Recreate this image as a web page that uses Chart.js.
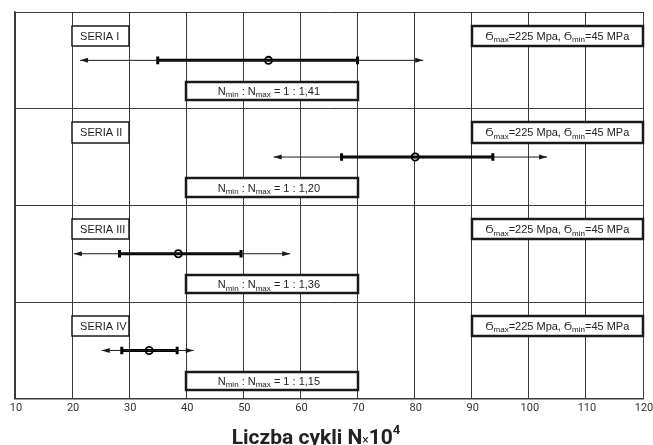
<!DOCTYPE html>
<html>
<head>
<meta charset="utf-8">
<script src="https://cdn.jsdelivr.net/npm/chart.js@4.4.1/dist/chart.umd.min.js"></script>
<style>
  html, body { margin: 0; padding: 0; background: #fff; }
</style>
</head>
<body>
<canvas id="myChart" width="653" height="445"></canvas>
<script>
// series (N x 10^4)
var categories = ['SERIA I', 'SERIA II', 'SERIA III', 'SERIA IV'];
var rangeLow = [21.4, 55.3, 20.3, 25.2];
var nMin = [35.0, 67.2, 28.3, 28.7];
var nMean = [54.4, 80.1, 38.6, 33.5];
var nMax = [70.0, 93.7, 49.6, 38.4];
var rangeHigh = [81.5, 103.2, 58.2, 41.3];
var ratioLabels = ['1,41', '1,20', '1,36', '1,15'];
var sigmaMax = 225;
var sigmaMin = 45;
var xTicks = [10, 20, 30, 40, 50, 60, 70, 80, 90, 100, 110, 120];

var INK = '#1a1a1a';
var BOX_FONT = '"Liberation Sans", Arial, sans-serif';

var canvas = document.getElementById('myChart');
var ctx = canvas.getContext('2d');

var datasets = [];
categories.forEach(function (name, i) {
    var y = i + 0.5;
    datasets.push({
        label: name + ' range',
        data: [{ x: rangeLow[i], y: y }, { x: rangeHigh[i], y: y }],
        showLine: true,
        borderColor: INK,
        borderWidth: 1,
        pointRadius: 0
    });
    datasets.push({
        label: name + ' min-max',
        data: [{ x: nMin[i], y: y }, { x: nMax[i], y: y }],
        showLine: true,
        borderColor: '#000',
        borderWidth: 3,
        pointStyle: 'line',
        rotation: 90,
        pointRadius: 3.8,
        pointBorderWidth: 3,
        pointBorderColor: '#000'
    });
    datasets.push({
        label: name + ' mean',
        data: [{ x: nMean[i], y: y }],
        pointStyle: 'circle',
        pointRadius: 3.6,
        pointBorderWidth: 1.8,
        pointBorderColor: '#000',
        pointBackgroundColor: '#fff'
    });
});

function drawBox(c, left, top, right, bottom, lw) {
    var off = (lw % 2 === 1) ? 0.5 : 0;
    left = Math.round(left) + off; right = Math.round(right) + off;
    top = Math.round(top) + off; bottom = Math.round(bottom) + off;
    c.save();
    c.fillStyle = '#fff';
    c.fillRect(left, top, right - left, bottom - top);
    c.lineWidth = lw;
    c.strokeStyle = INK;
    c.strokeRect(left, top, right - left, bottom - top);
    c.restore();
}

// text with subscripts / superscripts; parts: {t, size, dy, bold}
function richText(c, parts, x, baseline, align, family) {
    var w = 0;
    c.save();
    parts.forEach(function (p) {
        c.font = (p.bold ? 'bold ' : '') + p.size + 'px ' + family;
        p.w = c.measureText(p.t).width;
        w += p.w;
    });
    var cx = align === 'left' ? x : x - w / 2;
    c.fillStyle = '#222';
    c.textBaseline = 'alphabetic';
    c.textAlign = 'left';
    parts.forEach(function (p) {
        c.font = (p.bold ? 'bold ' : '') + p.size + 'px ' + family;
        c.fillText(p.t, cx, baseline + (p.dy || 0));
        cx += p.w;
    });
    c.restore();
}

function txt(t) { return { t: t, size: 11 }; }
function sub(t) { return { t: t, size: 8, dy: 2.5 }; }

function arrowHead(c, tipX, y, dir) {
    c.save();
    c.fillStyle = INK;
    c.beginPath();
    c.moveTo(tipX, y);
    c.lineTo(tipX - dir * 8, y - 2.5);
    c.lineTo(tipX - dir * 8, y + 2.5);
    c.closePath();
    c.fill();
    c.restore();
}

var panelPlugin = {
    id: 'panels',
    beforeDatasetsDraw: function (chart) {
        var c = chart.ctx, xs = chart.scales.x, ys = chart.scales.y;
        categories.forEach(function (name, i) {
            // series name
            var t = ys.getPixelForValue(i + 0.14), b = ys.getPixelForValue(i + 0.35);
            drawBox(c, xs.getPixelForValue(20), t, xs.getPixelForValue(30), b, 1.5);
            richText(c, [txt(name)], xs.getPixelForValue(20) + 8, (t + b) / 2 + 4, 'left', BOX_FONT);
            // stress levels
            drawBox(c, xs.getPixelForValue(90), t, xs.getPixelForValue(120), b, 2.5);
            richText(c, [
                txt('Ϭ'), sub('max'), txt('=' + sigmaMax + ' Mpa, Ϭ'), sub('min'), txt('=' + sigmaMin + ' MPa')
            ], (xs.getPixelForValue(90) + xs.getPixelForValue(120)) / 2, (t + b) / 2 + 4, 'center', BOX_FONT);
            // ratio
            var t2 = ys.getPixelForValue(i + 0.72), b2 = ys.getPixelForValue(i + 0.91);
            drawBox(c, xs.getPixelForValue(40), t2, xs.getPixelForValue(70), b2, 2.5);
            richText(c, [
                txt('N'), sub('min'), txt(' : N'), sub('max'), txt(' = 1 : ' + ratioLabels[i])
            ], (xs.getPixelForValue(40) + xs.getPixelForValue(70)) / 2 - 3, (t2 + b2) / 2 + 4, 'center', BOX_FONT);
        });
    },
    afterDatasetsDraw: function (chart) {
        var c = chart.ctx, xs = chart.scales.x, ys = chart.scales.y;
        categories.forEach(function (name, i) {
            var y = ys.getPixelForValue(i + 0.5);
            arrowHead(c, xs.getPixelForValue(rangeLow[i]), y, -1);
            arrowHead(c, xs.getPixelForValue(rangeHigh[i]), y, 1);
        });
    },
    afterDraw: function (chart) {
        // axis title with real superscript
        var a = chart.chartArea;
        richText(chart.ctx, [
            { t: 'Liczba cykli N', size: 21, bold: true },
            { t: '×', size: 12 },
            { t: '10', size: 21, bold: true },
            { t: '4', size: 13, bold: true, dy: -10 }
        ], (a.left + a.right) / 2 - 13, 444, 'center', 'Roboto');
    }
};

var myChart = new Chart(ctx, {
    type: 'scatter',
    data: { datasets: datasets },
    plugins: [panelPlugin],
    options: {
        responsive: false,
        animation: false,
        events: [],
        devicePixelRatio: 1,
        layout: { padding: { left: 15, right: 10, top: 12, bottom: 27 } },
        plugins: {
            legend: { display: false },
            tooltip: { enabled: false }
        },
        scales: {
            x: {
                type: 'linear',
                min: 10,
                max: 120,
                afterBuildTicks: function (scale) {
                    scale.ticks = xTicks.map(function (v) { return { value: v }; });
                },
                afterFit: function (scale) {
                    scale.paddingLeft = 0;
                    scale.paddingRight = 0;
                },
                grid: { color: '#3a3a3a', lineWidth: 1, drawTicks: false },
                border: { color: '#3a3a3a', width: 1.5 },
                ticks: {
                    padding: 3,
                    labelOffset: 1,
                    color: '#333',
                    font: { family: 'Roboto', size: 11 },
                    maxRotation: 0
                }
            },
            y: {
                type: 'linear',
                min: 0,
                max: 4,
                reverse: true,
                afterBuildTicks: function (scale) {
                    scale.ticks = [0, 1, 2, 3, 4].map(function (v) { return { value: v }; });
                },
                grid: { color: '#3a3a3a', lineWidth: 1, drawTicks: false },
                border: { color: '#3a3a3a', width: 1.5 },
                ticks: { display: false }
            }
        }
    }
});
</script>
</body>
</html>
